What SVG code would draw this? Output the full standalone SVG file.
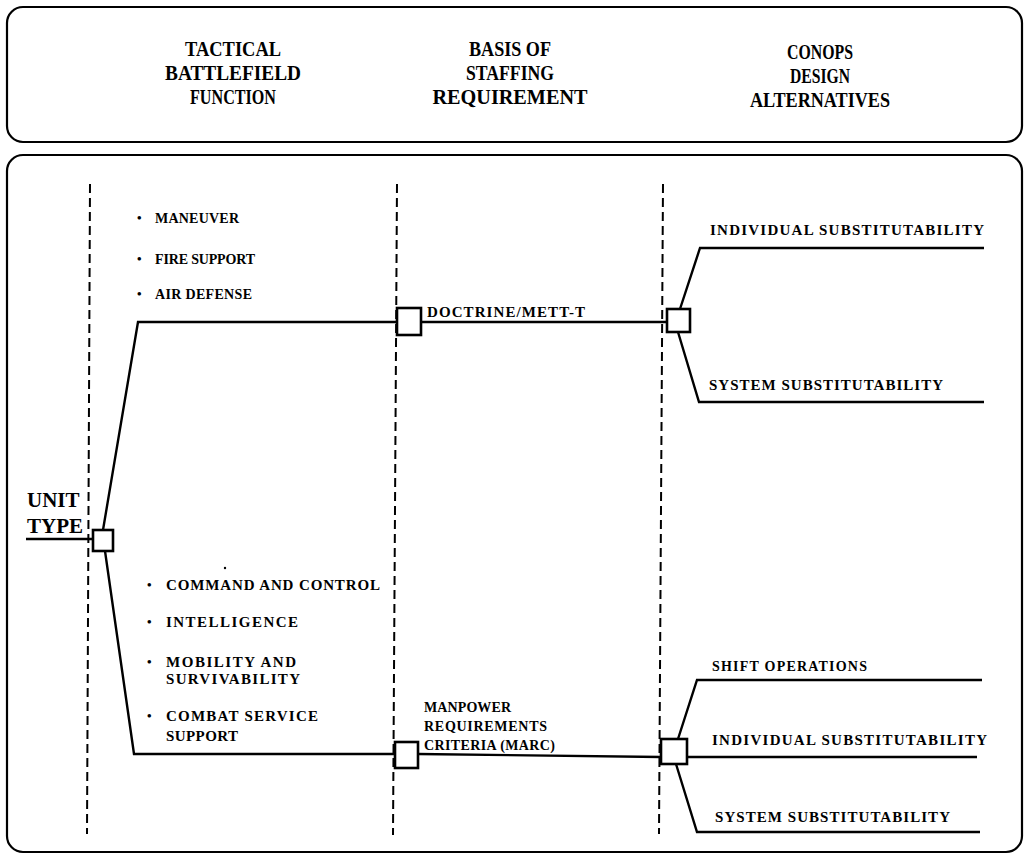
<svg xmlns="http://www.w3.org/2000/svg" width="1029" height="858" viewBox="0 0 1029 858">
<style>
.frame{fill:none;stroke:#000;stroke-width:2.2}
.hd{font-family:"Liberation Serif","Times New Roman",serif;font-weight:bold;font-size:21px;fill:#000;text-anchor:middle}
.it{font-family:"Liberation Serif","Times New Roman",serif;font-weight:bold;font-size:14px;fill:#000}
.lg{font-size:15px}
.bu{font-family:"Liberation Serif","Times New Roman",serif;font-weight:bold;font-size:13px;fill:#000}
.ut{font-family:"Liberation Serif","Times New Roman",serif;font-weight:bold;font-size:21px;fill:#000}
.ln{fill:none;stroke:#000;stroke-width:2.4;stroke-linejoin:miter}
.dash{fill:none;stroke:#000;stroke-width:2;stroke-dasharray:9 5}
.box{fill:#fff;stroke:#000;stroke-width:2.6}
</style>
<rect width="1029" height="858" fill="#fff"/>
<g id="header">
<rect class="frame" x="7" y="7" width="1015" height="135" rx="16"/>
<text class="hd" x="233" y="56" textLength="96" lengthAdjust="spacingAndGlyphs">TACTICAL</text>
<text class="hd" x="233" y="80" textLength="136" lengthAdjust="spacingAndGlyphs">BATTLEFIELD</text>
<text class="hd" x="233" y="104" textLength="86" lengthAdjust="spacingAndGlyphs">FUNCTION</text>
<text class="hd" x="510" y="56" textLength="82" lengthAdjust="spacingAndGlyphs">BASIS OF</text>
<text class="hd" x="510" y="80" textLength="88" lengthAdjust="spacingAndGlyphs">STAFFING</text>
<text class="hd" x="510" y="104" textLength="155" lengthAdjust="spacingAndGlyphs">REQUIREMENT</text>
<text class="hd" x="820" y="59" textLength="66" lengthAdjust="spacingAndGlyphs">CONOPS</text>
<text class="hd" x="820" y="83" textLength="60" lengthAdjust="spacingAndGlyphs">DESIGN</text>
<text class="hd" x="820" y="107" textLength="140" lengthAdjust="spacingAndGlyphs">ALTERNATIVES</text>
</g>
<g id="main-frame">
<rect class="frame" x="7" y="155" width="1015" height="697" rx="16"/>
</g>
<g id="dividers">
<line class="dash" x1="90" y1="184" x2="87" y2="834"/>
<line class="dash" x1="397" y1="184" x2="393" y2="835"/>
<line class="dash" x1="663" y1="184" x2="659" y2="834"/>
</g>
<g id="connectors">
<line class="ln" x1="26" y1="539" x2="93" y2="539"/>
<polyline class="ln" points="103,530 138,322 397,322"/>
<polyline class="ln" points="105,551 134,754 395,754"/>
<line class="ln" x1="421" y1="322" x2="667" y2="322"/>
<polyline class="ln" points="680,309 700,248 984,248"/>
<polyline class="ln" points="678,332 699,402 984,402"/>
<line class="ln" x1="418" y1="754" x2="661" y2="757"/>
<polyline class="ln" points="678,739 697,680 982,680"/>
<line class="ln" x1="687" y1="757" x2="977" y2="757"/>
<polyline class="ln" points="676,764 697,832 980,832"/>
</g>
<g id="unit-type">
<text class="ut" x="27" y="507">UNIT</text>
<text class="ut" x="27" y="533">TYPE</text>
<rect class="box" x="93" y="530" width="20" height="21"/>
</g>
<g id="functions-upper">
<text class="bu" x="137" y="222">•</text>
<text class="it" x="155" y="223" textLength="84">MANEUVER</text>
<text class="bu" x="137" y="263">•</text>
<text class="it" x="155" y="264" textLength="100">FIRE SUPPORT</text>
<text class="bu" x="137" y="298">•</text>
<text class="it" x="155" y="299" textLength="97">AIR DEFENSE</text>
</g>
<g id="functions-lower">
<circle cx="225" cy="568" r="1.2" fill="#000"/>
<text class="bu" x="147" y="589">•</text>
<text class="it lg" x="166" y="590" textLength="214">COMMAND AND CONTROL</text>
<text class="bu" x="147" y="626">•</text>
<text class="it lg" x="166" y="627" textLength="132">INTELLIGENCE</text>
<text class="bu" x="147" y="666">•</text>
<text class="it lg" x="166" y="667" textLength="130">MOBILITY AND</text>
<text class="it lg" x="166" y="684" textLength="134">SURVIVABILITY</text>
<text class="bu" x="147" y="720">•</text>
<text class="it lg" x="166" y="721" textLength="152">COMBAT SERVICE</text>
<text class="it lg" x="166" y="741" textLength="72">SUPPORT</text>
</g>
<g id="doctrine">
<rect class="box" x="397" y="308" width="24" height="27"/>
<text class="it lg" x="427" y="317" textLength="158">DOCTRINE/METT-T</text>
</g>
<g id="marc">
<rect class="box" x="395" y="742" width="23" height="26"/>
<text class="it" x="424" y="712" textLength="87">MANPOWER</text>
<text class="it" x="424" y="731" textLength="123">REQUIREMENTS</text>
<text class="it" x="424" y="750" textLength="131">CRITERIA (MARC)</text>
</g>
<g id="alt-upper">
<rect class="box" x="667" y="309" width="23" height="23"/>
<text class="it lg" x="710" y="235" textLength="274">INDIVIDUAL SUBSTITUTABILITY</text>
<text class="it lg" x="709" y="390" textLength="234">SYSTEM SUBSTITUTABILITY</text>
</g>
<g id="alt-lower">
<rect class="box" x="661" y="739" width="26" height="25"/>
<text class="it" x="712" y="671" textLength="155">SHIFT OPERATIONS</text>
<text class="it lg" x="712" y="745" textLength="275">INDIVIDUAL SUBSTITUTABILITY</text>
<text class="it lg" x="715" y="822" textLength="235">SYSTEM SUBSTITUTABILITY</text>
</g>
</svg>
